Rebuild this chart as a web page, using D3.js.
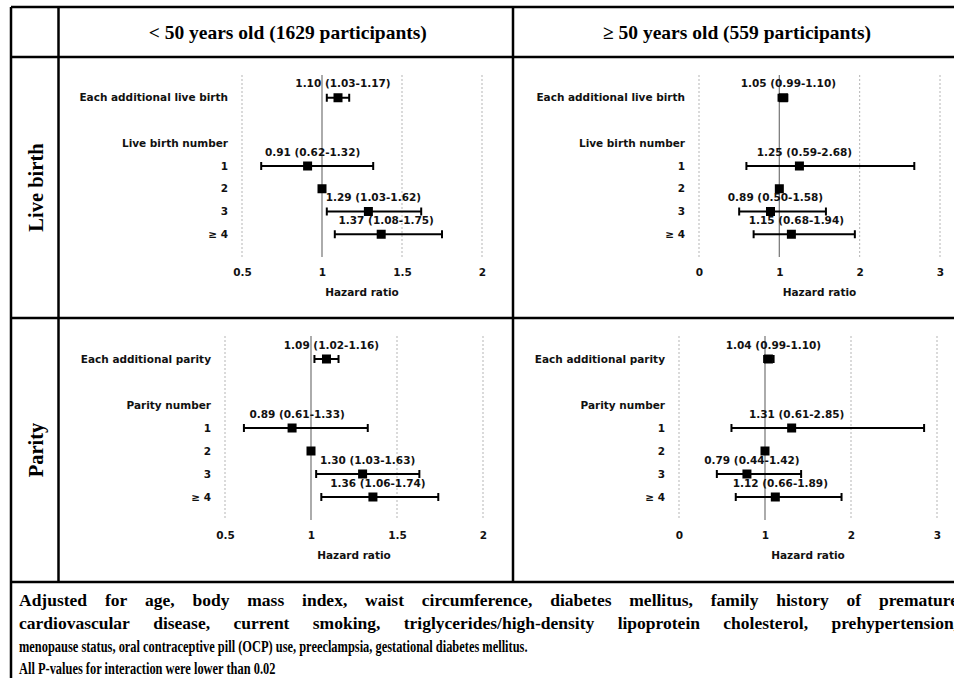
<!DOCTYPE html>
<html>
<head>
<meta charset="utf-8">
<script src="https://cdn.jsdelivr.net/npm/d3@7"></script>
<style>
  body { margin: 0; background: #fff; }
  svg { display: block; }
</style>
</head>
<body>
<svg id="chart" width="954" height="678"></svg>
<script>
// ---- data ----
const ageGroups = ["< 50 years old (1629 participants)", "\u2265 50 years old (559 participants)"];
const exposures = ["Live birth", "Parity"];

const liveBirthLabels = ["Each additional live birth", "Live birth number", "1", "2", "3", "\u2265 4"];
const parityLabels = ["Each additional parity", "Parity number", "1", "2", "3", "\u2265 4"];

// null = heading row (no estimate), reference group has no CI
const liveBirthYoungHR = [1.10, null, 0.91, 1.00, 1.29, 1.37];
const liveBirthYoungLo = [1.03, null, 0.62, null, 1.03, 1.08];
const liveBirthYoungHi = [1.17, null, 1.32, null, 1.62, 1.75];

const liveBirthOldHR = [1.05, null, 1.25, 1.00, 0.89, 1.15];
const liveBirthOldLo = [0.99, null, 0.59, null, 0.50, 0.68];
const liveBirthOldHi = [1.10, null, 2.68, null, 1.58, 1.94];

const parityYoungHR = [1.09, null, 0.89, 1.00, 1.30, 1.36];
const parityYoungLo = [1.02, null, 0.61, null, 1.03, 1.06];
const parityYoungHi = [1.16, null, 1.33, null, 1.63, 1.74];

const parityOldHR = [1.04, null, 1.31, 1.00, 0.79, 1.12];
const parityOldLo = [0.99, null, 0.61, null, 0.44, 0.66];
const parityOldHi = [1.10, null, 2.85, null, 1.42, 1.89];

const youngTicks = [0.5, 1, 1.5, 2];
const oldTicks = [0, 1, 2, 3];

const footnoteLines = [
  "Adjusted for age, body mass index, waist circumference, diabetes mellitus, family history of premature",
  "cardiovascular disease, current smoking, triglycerides/high-density lipoprotein cholesterol, prehypertension,",
  "menopause status, oral contraceptive pill (OCP) use, preeclampsia, gestational diabetes mellitus.",
  "All P-values for interaction were lower than 0.02"
];

// ---- layout ----
const svg = d3.select('#chart');
const serif = "'Liberation Serif', 'Times New Roman', serif";
const sans = "'DejaVu Sans', Verdana, sans-serif";

const colX = [11, 58.5, 513, 957];
const rowY = [7, 57, 318, 582, 700];

// row slot of each label (slot 1 is the empty gap)
const slots = [0, 2, 3, 4, 5, 6];

const panels = [
  {labels: liveBirthLabels, hr: liveBirthYoungHR, lo: liveBirthYoungLo, hi: liveBirthYoungHi, ticks: youngTicks,
   xr: [242, 482], yr: [75, 257]},
  {labels: liveBirthLabels, hr: liveBirthOldHR, lo: liveBirthOldLo, hi: liveBirthOldHi, ticks: oldTicks,
   xr: [699, 940], yr: [75, 257]},
  {labels: parityLabels, hr: parityYoungHR, lo: parityYoungLo, hi: parityYoungHi, ticks: youngTicks,
   xr: [225, 483], yr: [336, 520]},
  {labels: parityLabels, hr: parityOldHR, lo: parityOldLo, hi: parityOldHi, ticks: oldTicks,
   xr: [679, 937], yr: [336, 520]}
];

// ---- table grid ----
const grid = svg.append('g').attr('stroke', '#000').attr('stroke-width', 2.5);
grid.selectAll('line.h').data(rowY.slice(0, 4)).enter().append('line')
  .attr('x1', colX[0]).attr('x2', colX[3])
  .attr('y1', d => d).attr('y2', d => d);
// outer borders run through the footnote
grid.append('line').attr('x1', colX[0]).attr('x2', colX[0]).attr('y1', rowY[0]).attr('y2', rowY[4]);
grid.append('line').attr('x1', colX[3]).attr('x2', colX[3]).attr('y1', rowY[0]).attr('y2', rowY[4]);
// inner dividers stop at the footnote
grid.selectAll('line.v').data(colX.slice(1, 3)).enter().append('line')
  .attr('x1', d => d).attr('x2', d => d)
  .attr('y1', rowY[0]).attr('y2', rowY[3]);

// column headers
svg.selectAll('text.colhead').data(ageGroups).enter().append('text')
  .attr('x', (d, i) => (colX[i + 1] + colX[i + 2]) / 2 + 2)
  .attr('y', (rowY[0] + rowY[1]) / 2)
  .attr('dy', '0.35em')
  .attr('text-anchor', 'middle')
  .style('font-family', serif)
  .style('font-weight', 'bold')
  .style('font-size', '19.5px')
  .text(d => d);

// row headers (rotated)
svg.selectAll('text.rowhead').data(exposures).enter().append('text')
  .attr('transform', (d, i) => 'translate(' + ((colX[0] + colX[1]) / 2 + 1) + ',' + ((rowY[i + 1] + rowY[i + 2]) / 2) + ') rotate(-90)')
  .attr('dy', '0.35em')
  .attr('text-anchor', 'middle')
  .style('font-family', serif)
  .style('font-weight', 'bold')
  .style('font-size', '20.5px')
  .text(d => d);

// ---- forest panels ----
panels.forEach(p => {
  const x = d3.scaleLinear().domain(d3.extent(p.ticks)).range(p.xr);
  const y = d3.scaleLinear().domain([-1, 7]).range(p.yr);
  const g = svg.append('g');

  // dotted gridlines
  g.selectAll('line.grid').data(p.ticks.filter(t => t !== 1)).enter().append('line')
    .attr('x1', d => x(d)).attr('x2', d => x(d))
    .attr('y1', p.yr[0]).attr('y2', p.yr[1])
    .attr('stroke', '#b5b5b5').attr('stroke-width', 1).attr('stroke-dasharray', '2,2');

  // reference line at HR = 1
  g.append('line')
    .attr('x1', x(1)).attr('x2', x(1))
    .attr('y1', p.yr[0]).attr('y2', p.yr[1])
    .attr('stroke', '#7f7f7f').attr('stroke-width', 1.3);

  // axis tick labels (no axis line in the original)
  const axis = d3.axisBottom(x).tickValues(p.ticks).tickSize(0).tickPadding(0)
    .tickFormat(d3.format('~g'));
  const axisG = g.append('g').attr('transform', 'translate(0,' + (p.yr[1] + 12) + ')').call(axis);
  axisG.select('.domain').remove();
  axisG.selectAll('text')
    .style('font-family', sans).style('font-weight', 'bold').style('font-size', '10.5px').style('fill', '#111');

  g.append('text')
    .attr('x', (p.xr[0] + p.xr[1]) / 2)
    .attr('y', p.yr[1] + 39)
    .attr('text-anchor', 'middle')
    .style('font-family', sans).style('font-weight', 'bold').style('font-size', '10.5px').style('fill', '#111')
    .text('Hazard ratio');

  // row labels
  g.selectAll('text.rl').data(p.labels).enter().append('text')
    .attr('x', p.xr[0] - 14)
    .attr('y', (d, i) => y(slots[i]))
    .attr('dy', '0.35em')
    .attr('text-anchor', 'end')
    .style('font-family', sans).style('font-weight', 'bold').style('font-size', '10.5px').style('fill', '#111')
    .text(d => d);

  const pts = p.hr.map((v, i) => ({hr: v, lo: p.lo[i], hi: p.hi[i], slot: slots[i]}))
    .filter(d => d.hr !== null);
  const ci = pts.filter(d => d.lo !== null);

  // whiskers
  g.selectAll('line.ci').data(ci).enter().append('line')
    .attr('x1', d => x(d.lo)).attr('x2', d => x(d.hi))
    .attr('y1', d => y(d.slot)).attr('y2', d => y(d.slot))
    .attr('stroke', '#000').attr('stroke-width', 2);
  ['lo', 'hi'].forEach(k => {
    g.selectAll('line.cap' + k).data(ci).enter().append('line')
      .attr('x1', d => x(d[k])).attr('x2', d => x(d[k]))
      .attr('y1', d => y(d.slot) - 4).attr('y2', d => y(d.slot) + 4)
      .attr('stroke', '#000').attr('stroke-width', 2);
  });

  // square markers
  g.selectAll('rect.pt').data(pts).enter().append('rect')
    .attr('x', d => x(d.hr) - 4.5).attr('y', d => y(d.slot) - 4.5)
    .attr('width', 9).attr('height', 9)
    .attr('fill', '#000');

  // estimate labels
  g.selectAll('text.val').data(ci).enter().append('text')
    .attr('x', d => x(d.hr) + 5)
    .attr('y', d => y(d.slot) - 14)
    .attr('dy', '0.35em')
    .attr('text-anchor', 'middle')
    .style('font-family', sans).style('font-weight', 'bold').style('font-size', '10.5px').style('fill', '#111')
    .text(d => d.hr.toFixed(2) + ' (' + d.lo.toFixed(2) + '-' + d.hi.toFixed(2) + ')');
});

// ---- footnote: first two lines justified, last two set condensed ----
const left = 19, right = 958;
const lineY = [606, 629, 652, 674];
const condensed = 0.71;
footnoteLines.forEach((line, li) => {
  const justify = li < 2;
  const sx = justify ? 1 : condensed;
  const t = svg.append('text')
    .attr('transform', 'translate(' + left + ',' + lineY[li] + ') scale(' + sx + ',1)')
    .style('font-family', serif).style('font-weight', 'bold').style('font-size', '17.5px')
    .style('fill', '#000');
  if (justify) {
    const words = line.split(' ');
    const spans = words.map(w => t.append('tspan').text(w));
    const widths = spans.map(s => s.node().getComputedTextLength());
    const gap = ((right - left) - d3.sum(widths)) / (words.length - 1);
    let cx = 0;
    spans.forEach((s, i) => { s.attr('x', cx); cx += widths[i] + gap; });
  } else {
    t.attr('x', 0).text(line);
  }
});
</script>
</body>
</html>
